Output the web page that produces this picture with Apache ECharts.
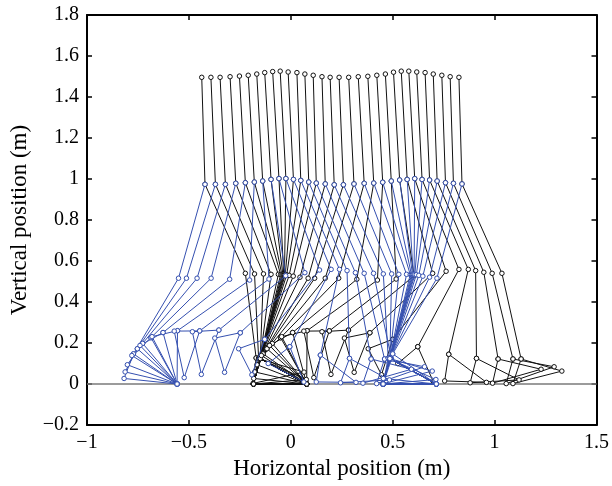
<!DOCTYPE html>
<html>
<head>
<meta charset="utf-8">
<script src="https://cdn.jsdelivr.net/npm/echarts@6/dist/echarts.min.js"></script>
<style>
    html, body {margin: 0; background: #fff;}
    #chart {width: 612px; height: 486px;}
</style>
</head>
<body>
<div id="chart"></div>
<script>
// 31 frames of a walking stick figure (metres).
const headX = [-0.437, -0.392, -0.347, -0.298, -0.252, -0.209, -0.167, -0.128, -0.089, -0.052, -0.013, 0.030, 0.069, 0.110, 0.153, 0.193, 0.237, 0.284, 0.331, 0.378, 0.422, 0.464, 0.504, 0.542, 0.579, 0.618, 0.659, 0.699, 0.741, 0.782, 0.825];
const headY = [1.496, 1.496, 1.496, 1.499, 1.502, 1.506, 1.512, 1.519, 1.524, 1.526, 1.522, 1.519, 1.512, 1.506, 1.499, 1.496, 1.496, 1.496, 1.499, 1.501, 1.506, 1.512, 1.521, 1.526, 1.526, 1.522, 1.519, 1.512, 1.506, 1.499, 1.496];
const hipX = [-0.421, -0.370, -0.321, -0.270, -0.223, -0.179, -0.138, -0.097, -0.058, -0.024, 0.013, 0.049, 0.088, 0.125, 0.169, 0.213, 0.258, 0.310, 0.360, 0.407, 0.451, 0.493, 0.534, 0.571, 0.608, 0.644, 0.681, 0.718, 0.759, 0.798, 0.840];
const hipY = [0.974, 0.974, 0.974, 0.979, 0.982, 0.985, 0.990, 0.998, 1.002, 1.002, 0.998, 0.993, 0.985, 0.980, 0.976, 0.972, 0.972, 0.976, 0.979, 0.980, 0.984, 0.990, 0.995, 0.998, 1.002, 0.998, 0.995, 0.990, 0.982, 0.979, 0.976];

// black leg
const bKneeX = [-0.223, -0.178, -0.134, -0.097, -0.061, -0.050, -0.044, -0.039, -0.035, -0.031, -0.027, -0.020, -0.008, 0.012, 0.045, 0.085, 0.117, 0.169, 0.235, 0.324, 0.425, 0.517, 0.605, 0.696, 0.762, 0.825, 0.871, 0.907, 0.947, 0.988, 1.036];
const bKneeY = [0.540, 0.537, 0.537, 0.535, 0.535, 0.534, 0.534, 0.535, 0.535, 0.535, 0.534, 0.533, 0.530, 0.526, 0.521, 0.516, 0.516, 0.516, 0.516, 0.511, 0.507, 0.512, 0.528, 0.540, 0.550, 0.559, 0.559, 0.553, 0.545, 0.540, 0.540];
const bAnkleX = [-0.170, -0.158, -0.150, -0.150, -0.150, -0.150, -0.150, -0.150, -0.150, -0.150, -0.150, -0.150, -0.150, -0.150, -0.150, -0.136, -0.117, -0.091, -0.050, 0.009, 0.080, 0.189, 0.283, 0.388, 0.500, 0.623, 0.775, 0.911, 1.017, 1.090, 1.130];
const bAnkleY = [0.127, 0.126, 0.124, 0.124, 0.124, 0.124, 0.124, 0.124, 0.124, 0.124, 0.124, 0.124, 0.124, 0.124, 0.124, 0.147, 0.172, 0.198, 0.226, 0.251, 0.260, 0.259, 0.263, 0.250, 0.218, 0.182, 0.145, 0.125, 0.122, 0.122, 0.122];
const bHeelX = [-0.185, -0.183, -0.183, -0.183, -0.183, -0.183, -0.183, -0.183, -0.183, -0.183, -0.183, -0.183, -0.183, -0.183, -0.183, -0.182, -0.177, -0.166, -0.144, -0.104, -0.045, 0.064, 0.153, 0.263, 0.380, 0.525, 0.755, 0.880, 0.990, 1.057, 1.090];
const bHeelY = [0.003, 0, 0, 0, 0, 0, 0, 0, 0, 0, 0, 0, 0, 0, 0, 0.027, 0.059, 0.094, 0.139, 0.188, 0.231, 0.258, 0.255, 0.224, 0.172, 0.100, 0.015, 0.006, 0.004, 0.002, 0.002];
const bToeX = [0.065, 0.076, 0.078, 0.078, 0.078, 0.078, 0.078, 0.078, 0.078, 0.078, 0.078, 0.078, 0.078, 0.078, 0.078, 0.078, 0.078, 0.078, 0.078, 0.078, 0.078, 0.113, 0.197, 0.311, 0.445, 0.700, 0.960, 1.120, 1.228, 1.292, 1.330];
const bToeY = [0.058, 0.022, 0, 0, 0, 0, 0, 0, 0, 0, 0, 0, 0, 0, 0, 0, 0, 0, 0, 0, 0, 0.031, 0.047, 0.057, 0.045, 0.010, 0.008, 0.020, 0.072, 0.084, 0.063];

// blue leg
const uKneeX = [-0.551, -0.512, -0.460, -0.391, -0.300, -0.202, -0.107, -0.025, 0.069, 0.141, 0.198, 0.239, 0.276, 0.317, 0.360, 0.406, 0.454, 0.495, 0.530, 0.568, 0.586, 0.592, 0.597, 0.601, 0.605, 0.609, 0.616, 0.628, 0.648, 0.681, 0.717];
const uKneeY = [0.516, 0.516, 0.516, 0.516, 0.511, 0.507, 0.512, 0.528, 0.543, 0.556, 0.559, 0.559, 0.553, 0.543, 0.540, 0.540, 0.537, 0.537, 0.535, 0.535, 0.534, 0.534, 0.535, 0.535, 0.535, 0.534, 0.533, 0.530, 0.526, 0.521, 0.516];
const uAnkleX = [-0.772, -0.753, -0.727, -0.686, -0.627, -0.556, -0.447, -0.353, -0.248, -0.128, -0.005, 0.145, 0.288, 0.394, 0.460, 0.494, 0.478, 0.486, 0.486, 0.486, 0.486, 0.486, 0.486, 0.486, 0.486, 0.486, 0.486, 0.486, 0.486, 0.486, 0.500];
const uAnkleY = [0.147, 0.172, 0.198, 0.226, 0.251, 0.260, 0.259, 0.263, 0.250, 0.218, 0.182, 0.141, 0.125, 0.122, 0.122, 0.122, 0.126, 0.124, 0.124, 0.124, 0.124, 0.124, 0.124, 0.124, 0.124, 0.124, 0.124, 0.124, 0.124, 0.124, 0.147];
const uHeelX = [-0.818, -0.813, -0.802, -0.780, -0.740, -0.681, -0.572, -0.483, -0.373, -0.256, -0.111, 0.125, 0.244, 0.354, 0.421, 0.454, 0.453, 0.453, 0.453, 0.453, 0.453, 0.453, 0.453, 0.453, 0.453, 0.453, 0.453, 0.453, 0.453, 0.453, 0.454];
const uHeelY = [0.027, 0.059, 0.094, 0.139, 0.188, 0.231, 0.258, 0.255, 0.224, 0.172, 0.100, 0.010, 0.006, 0.004, 0.002, 0.002, 0, 0, 0, 0, 0, 0, 0, 0, 0, 0, 0, 0, 0, 0, 0.027];
const uToeX = [-0.558, -0.558, -0.558, -0.558, -0.558, -0.558, -0.523, -0.439, -0.325, -0.191, 0.064, 0.320, 0.484, 0.592, 0.656, 0.694, 0.712, 0.714, 0.714, 0.714, 0.714, 0.714, 0.714, 0.714, 0.714, 0.714, 0.714, 0.714, 0.714, 0.714, 0.714];
const uToeY = [0, 0, 0, 0, 0, 0, 0.031, 0.047, 0.057, 0.045, 0.010, 0.008, 0.020, 0.072, 0.084, 0.063, 0.022, 0, 0, 0, 0, 0, 0, 0, 0, 0, 0, 0, 0, 0, 0];

const groundX = [-1, 1.5];
const groundY = [0, 0];

const xTicks = {min: -1, max: 1.5, interval: 0.5};
const yTicks = {min: -0.2, max: 1.8, interval: 0.2};

const black = '#111';
const blue = '#3550b0';
const serif = '"Liberation Serif", "DejaVu Serif", serif';

// head-hip-knee-ankle-heel-toe-ankle and hip-knee-ankle-heel-toe-ankle
const blackPath = [[headX, headY], [hipX, hipY], [bKneeX, bKneeY], [bAnkleX, bAnkleY],
    [bHeelX, bHeelY], [bToeX, bToeY], [bAnkleX, bAnkleY]];
const bluePath = [[hipX, hipY], [uKneeX, uKneeY], [uAnkleX, uAnkleY],
    [uHeelX, uHeelY], [uToeX, uToeY], [uAnkleX, uAnkleY]];

function stick(path, i, color, z) {
    return {
        type: 'line',
        data: path.map(([xs, ys]) => [xs[i], ys[i]]),
        symbol: 'circle',
        symbolSize: 4.5,
        showSymbol: true,
        animation: false,
        silent: true,
        z,
        lineStyle: {color, width: 1},
        itemStyle: {color: '#fff', borderColor: color, borderWidth: 1},
    };
}

const fmt = v => String(Number(v.toFixed(1))).replace('-', '\u2212');

function mainAxis(t, name, nameGap) {
    return {
        type: 'value',
        ...t,
        name,
        nameLocation: 'middle',
        nameGap,
        nameTextStyle: {fontFamily: serif, fontSize: 23, color: '#000'},
        axisLine: {show: true, onZero: false, lineStyle: {color: '#000', width: 2}},
        axisTick: {show: true, inside: true, length: 5, lineStyle: {color: '#000', width: 1.5}},
        axisLabel: {color: '#000', fontFamily: serif, fontSize: 20, margin: 8, formatter: fmt},
        splitLine: {show: false},
    };
}

function mirrorAxis(t, position) {
    return {
        type: 'value',
        ...t,
        position,
        axisLine: {show: true, onZero: false, lineStyle: {color: '#000', width: 2}},
        axisTick: {show: true, inside: true, length: 5, lineStyle: {color: '#000', width: 1.5}},
        axisLabel: {show: false},
        splitLine: {show: false},
    };
}

const series = [{
    type: 'line',
    data: groundX.map((x, i) => [x, groundY[i]]),
    symbol: 'none',
    animation: false,
    silent: true,
    z: 1,
    lineStyle: {color: '#7a7a7a', width: 1.5},
}];
for (let i = 0; i < hipX.length; i++) {
    series.push(stick(blackPath, i, black, 2));
}
for (let i = 0; i < hipX.length; i++) {
    series.push(stick(bluePath, i, blue, 3));
}

const chart = echarts.init(document.getElementById('chart'), null, {renderer: 'canvas'});
chart.setOption({
    backgroundColor: '#fff',
    animation: false,
    grid: {left: 87, right: 11, top: 15, bottom: 61, containLabel: false},
    xAxis: [
        {...mainAxis(xTicks, 'Horizontal position (m)', 32), position: 'bottom'},
        mirrorAxis(xTicks, 'top'),
    ],
    yAxis: [
        {...mainAxis(yTicks, 'Vertical position (m)', 53), position: 'left'},
        mirrorAxis(yTicks, 'right'),
    ],
    series,
});
</script>
</body>
</html>
